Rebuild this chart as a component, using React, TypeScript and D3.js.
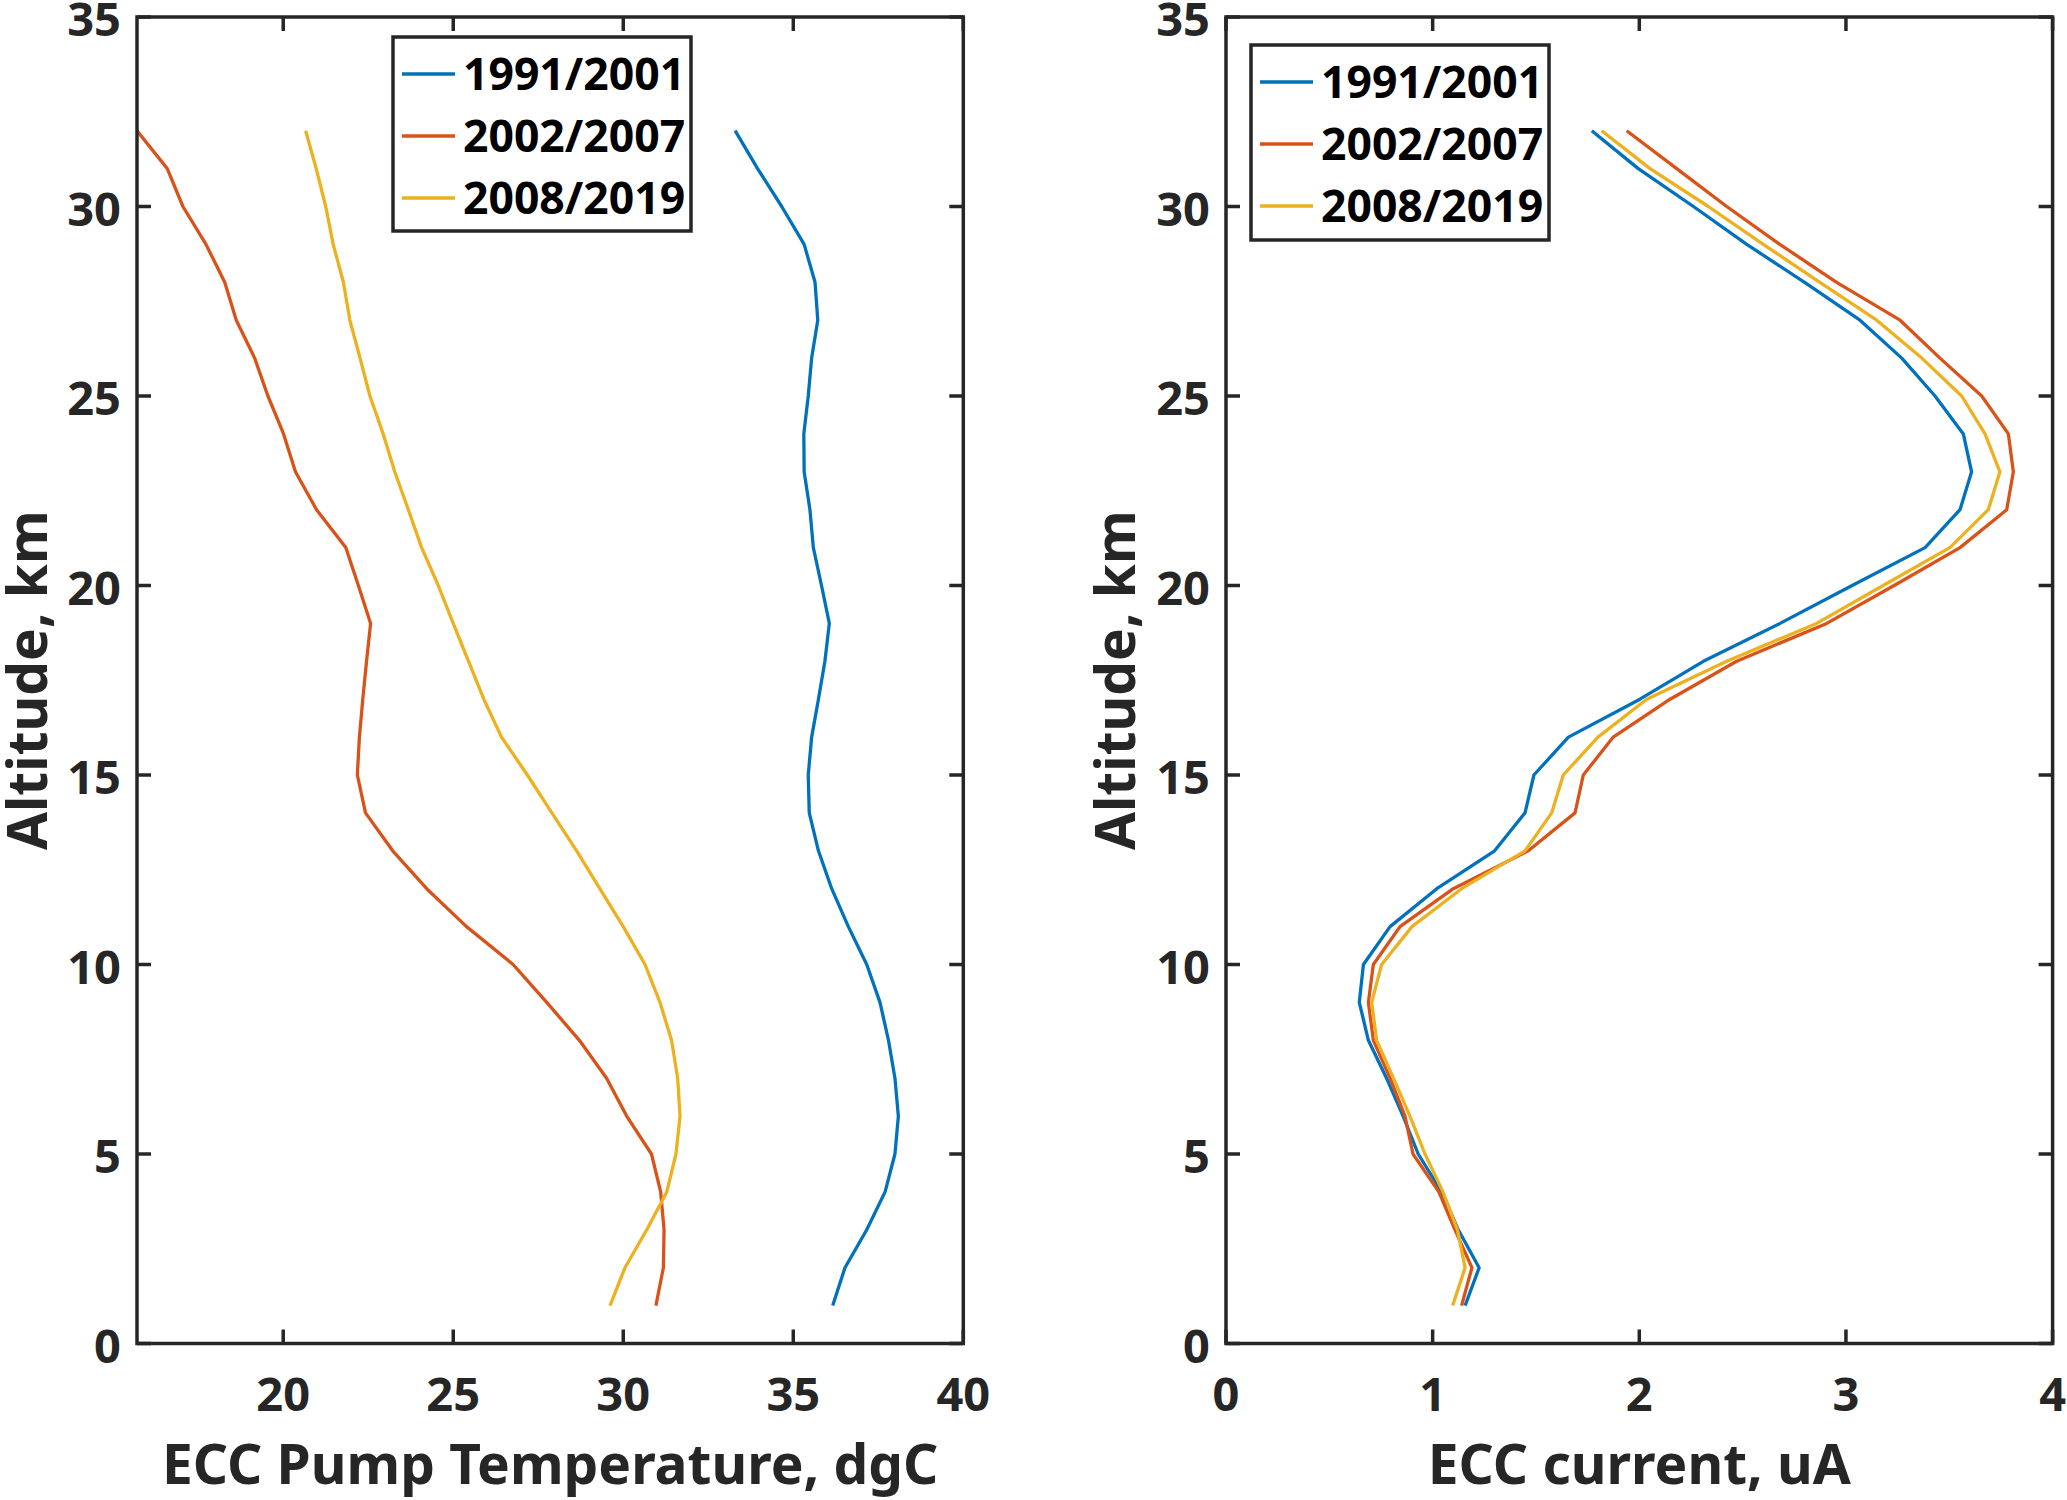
import React from "react";
import * as d3 from "d3";

const altitudes = [1,2,3,4,5,6,7,8,9,10,11,12,13,14,15,16,17,18,19,20,21,22,23,24,25,26,27,28,29,30,31,32];

const seriesNames = ["1991/2001", "2002/2007", "2008/2019"];
const seriesColors = ["#0072BD", "#D95319", "#EDB120"];

const pumpT1991 = [36.16,36.52,37.16,37.70,37.99,38.09,37.99,37.80,37.55,37.16,36.62,36.13,35.74,35.47,35.44,35.54,35.74,35.93,36.06,35.83,35.59,35.49,35.32,35.31,35.44,35.54,35.72,35.64,35.32,34.66,33.95,33.29];
const pumpT2002 = [30.96,31.18,31.20,31.10,30.83,30.10,29.51,28.71,27.75,26.76,25.39,24.22,23.22,22.42,22.18,22.24,22.34,22.45,22.57,22.21,21.84,20.98,20.36,20.01,19.55,19.16,18.62,18.28,17.73,17.05,16.59,15.70];
const pumpT2008 = [29.61,30.05,30.69,31.28,31.55,31.67,31.60,31.42,31.08,30.64,30.00,29.31,28.63,27.90,27.18,26.42,25.90,25.45,25.00,24.56,24.07,23.68,23.28,22.94,22.55,22.26,21.96,21.77,21.47,21.25,20.97,20.66];

const cur1991 = [1.157,1.225,1.124,1.044,0.930,0.857,0.777,0.689,0.645,0.665,0.794,1.020,1.300,1.447,1.490,1.657,2.003,2.310,2.681,3.030,3.383,3.552,3.608,3.568,3.431,3.270,3.068,2.800,2.520,2.262,1.995,1.770];
const cur2002 = [1.140,1.190,1.108,1.030,0.905,0.866,0.794,0.713,0.689,0.713,0.842,1.100,1.463,1.689,1.729,1.874,2.149,2.471,2.907,3.233,3.552,3.778,3.810,3.786,3.657,3.455,3.262,2.955,2.680,2.423,2.181,1.939];
const cur2008 = [1.097,1.157,1.120,1.050,0.963,0.890,0.810,0.729,0.705,0.753,0.900,1.140,1.447,1.576,1.632,1.800,2.036,2.423,2.858,3.180,3.503,3.689,3.745,3.673,3.560,3.367,3.149,2.874,2.600,2.334,2.052,1.818];

const altTicks = [0,5,10,15,20,25,30,35];
const tempTicks = [20,25,30,35,40];
const curTicks = [0,1,2,3,4];

const AX = "#262626";
const FONT = "'Noto Sans', 'Open Sans', sans-serif";

type PanelProps = {
  x0: number; x1: number;
  xDomain: [number, number];
  xTicks: number[];
  series: number[][];
  xLabel: string;
  yLabelX: number;
  legend: { x: number; y: number; w: number; h: number };
};

const Y_TOP = 17;
const Y_BOT = 1343.5;

function Panel({ x0, x1, xDomain, xTicks, series, xLabel, yLabelX, legend }: PanelProps) {
  const x = d3.scaleLinear().domain(xDomain).range([x0, x1]);
  const y = d3.scaleLinear().domain([0, 35]).range([Y_BOT, Y_TOP]);
  const line = d3.line<number>().x((d) => x(d)).y((_, i) => y(altitudes[i]));
  const tl = 14;
  const rowH = 62;
  return (
    <g>
      {series.map((s, i) => (
        <path key={i} d={line(s) || ""} fill="none" stroke={seriesColors[i]} strokeWidth={3.3} strokeLinejoin="round" />
      ))}
      {altTicks.map((t) => (
        <g key={"yt" + t}>
          <line x1={x0} x2={x0 + tl} y1={y(t)} y2={y(t)} stroke={AX} strokeWidth={3.5} />
          <line x1={x1} x2={x1 - tl} y1={y(t)} y2={y(t)} stroke={AX} strokeWidth={3.5} />
          <text x={x0 - 16} y={y(t)} dy="0.41em" textAnchor="end" fontSize={47} fontWeight="bold" fill={AX} fontFamily={FONT}>{t}</text>
        </g>
      ))}
      {xTicks.map((t) => (
        <g key={"xt" + t}>
          <line x1={x(t)} x2={x(t)} y1={Y_BOT} y2={Y_BOT - tl} stroke={AX} strokeWidth={3.5} />
          <line x1={x(t)} x2={x(t)} y1={Y_TOP} y2={Y_TOP + tl} stroke={AX} strokeWidth={3.5} />
          <text x={x(t)} y={1411} textAnchor="middle" fontSize={47} fontWeight="bold" fill={AX} fontFamily={FONT}>{t}</text>
        </g>
      ))}
      <rect x={x0} y={Y_TOP} width={x1 - x0} height={Y_BOT - Y_TOP} fill="none" stroke={AX} strokeWidth={3.5} />
      <text x={(x0 + x1) / 2} y={1484} textAnchor="middle" fontSize={55} fontWeight="bold" fill={AX} fontFamily={FONT}>{xLabel}</text>
      <text transform={`translate(${yLabelX},${(Y_TOP + Y_BOT) / 2}) rotate(-90)`} textAnchor="middle" fontSize={55} fontWeight="bold" fill={AX} fontFamily={FONT}>Altitude, km</text>
      <rect x={legend.x} y={legend.y} width={legend.w} height={legend.h} fill="#ffffff" stroke={AX} strokeWidth={3.5} />
      {seriesNames.map((n, i) => {
        const ry = legend.y + 37 + i * rowH;
        return (
          <g key={n}>
            <line x1={legend.x + 9} x2={legend.x + 62} y1={ry} y2={ry} stroke={seriesColors[i]} strokeWidth={3.5} />
            <text x={legend.x + 70} y={ry} dy="0.36em" fontSize={44.5} fontWeight="bold" fill="#000" fontFamily={FONT}>{n}</text>
          </g>
        );
      })}
    </g>
  );
}

export default function App() {
  const leftMin = d3.min([...pumpT1991, ...pumpT2002, ...pumpT2008]) as number;
  return (
    <svg width={2067} height={1500} style={{ position: "absolute", left: 0, top: 0, background: "#fff" }}>
      <rect x={0} y={0} width={2067} height={1500} fill="#fff" />
      <Panel
        x0={137}
        x1={963.3}
        xDomain={[leftMin, 40]}
        xTicks={tempTicks}
        series={[pumpT1991, pumpT2002, pumpT2008]}
        xLabel="ECC Pump Temperature, dgC"
        yLabelX={47}
        legend={{ x: 393, y: 37, w: 298, h: 194 }}
      />
      <Panel
        x0={1226}
        x1={2052.6}
        xDomain={[0, 4]}
        xTicks={curTicks}
        series={[cur1991, cur2002, cur2008]}
        xLabel="ECC current, uA"
        yLabelX={1135}
        legend={{ x: 1251, y: 45, w: 298, h: 195 }}
      />
    </svg>
  );
}
